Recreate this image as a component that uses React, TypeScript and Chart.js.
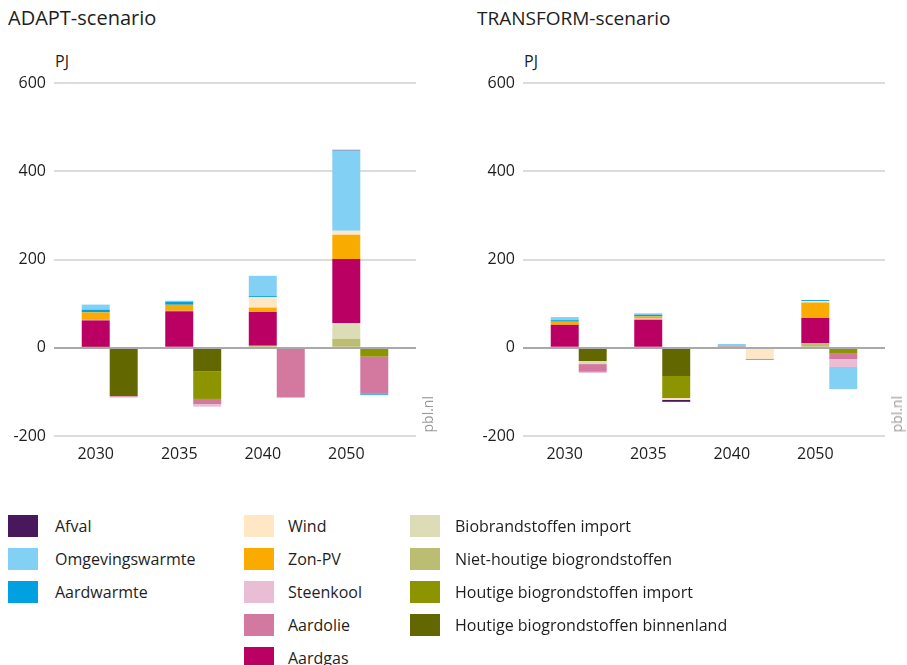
import React, { useEffect, useRef } from 'react';
import { Chart, registerables } from 'chart.js';

Chart.register(...registerables);

const years = ['2030', '2035', '2040', '2050'];
const yTicks = [-200, 0, 200, 400, 600];

// legend order
const categories = [
  'Afval',
  'Omgevingswarmte',
  'Aardwarmte',
  'Wind',
  'Zon-PV',
  'Steenkool',
  'Aardolie',
  'Aardgas',
  'Biobrandstoffen import',
  'Niet-houtige biogrondstoffen',
  'Houtige biogrondstoffen import',
  'Houtige biogrondstoffen binnenland',
];

const colors = [
  '#48175c',
  '#83d0f5',
  '#00a0e1',
  '#ffe6c4',
  '#f9ab00',
  '#e9bed4',
  '#d3789f',
  '#ba0063',
  '#dcddb6',
  '#bbbd72',
  '#8c9400',
  '#636700',
];

// values per category (legend order), per year 2030, 2035, 2040, 2050 (PJ)
const adaptUp = [
  [0, 0, 0, 1.5],
  [11.5, 2.3, 46, 182],
  [6, 6.8, 2, 0],
  [0, 0, 24, 9],
  [16.5, 13.6, 10, 55],
  [0, 0, 0, 0],
  [2, 0.8, 0, 0],
  [61, 83, 76.5, 145],
  [0, 0, 0, 36],
  [0.8, 0, 4.5, 20],
  [0, 0, 0, 0],
  [0, 0, 0, 0],
];

const adaptDown = [
  [0, 0, 0, 0],
  [0, 0, 0, 0],
  [0, 0, 0, -2.5],
  [0, 0, 0, 0],
  [0, 0, 0, 0],
  [-2, -6, 0, 0],
  [-1.5, -11.5, -108, -84],
  [0, 0, -1, 0],
  [0, 0, 0, 0],
  [0, 0, 0, 0],
  [0, -63, -2, -20],
  [-109.5, -53, -2, 0],
];

const transformUp = [
  [0, 0, 0, 0],
  [7, 3, 5.5, 0],
  [3.5, 4, 0, 2],
  [0, 0, 0, 3.5],
  [7, 5, 0, 35],
  [0, 1.5, 0, 0],
  [0, 1.5, 1.5, 0],
  [52, 63, 0, 57],
  [0, 0, 0, 0],
  [0, 0, 1.5, 10.5],
  [0, 0, 0, 0],
  [0, 0, 0, 0],
];

const transformDown = [
  [0, -4.5, 0, 0],
  [0, 0, 0, -50],
  [0, 0, -2, 0],
  [0, -4, -24, 0],
  [0, 0, 0, 0],
  [-2.5, 0, 0, -18],
  [-17.5, 0, 0, -13.6],
  [0, 0, 0, 0],
  [-7, 0, 0, 0],
  [0, 0, 0, 0],
  [0, -50, 0, -12],
  [-30, -64, -1, 0],
];

const FONT = '"Open Sans", "Noto Sans", sans-serif';
const TEXT = '#1e1e1e';

const zeroLine = {
  id: 'zeroLine',
  afterDatasetsDraw(chart: any) {
    const { ctx, chartArea, scales } = chart;
    const y = Math.round(scales.y.getPixelForValue(0));
    ctx.save();
    ctx.strokeStyle = '#a9a9a9';
    ctx.lineWidth = 2;
    ctx.beginPath();
    ctx.moveTo(chartArea.left, y);
    ctx.lineTo(chartArea.right, y);
    ctx.stroke();
    ctx.restore();
  },
};

function Panel(props: {
  title: string;
  titleSize: number;
  up: number[][];
  down: number[][];
  left: number;
  width: number;
  padRight: number;
}) {
  const { title, titleSize, up, down, left, width, padRight } = props;
  const ref = useRef<HTMLCanvasElement | null>(null);

  useEffect(() => {
    if (!ref.current) return;
    const order = categories.map((_, i) => categories.length - 1 - i);
    const datasets: any[] = [];
    for (const i of order) {
      datasets.push({
        label: categories[i],
        data: up[i].map((v, j) => ({ x: j, y: v })),
        backgroundColor: colors[i],
        borderWidth: 0,
        stack: 'up',
      });
    }
    for (const i of order) {
      datasets.push({
        label: categories[i],
        data: down[i].map((v, j) => ({ x: j, y: v })),
        backgroundColor: colors[i],
        borderWidth: 0,
        stack: 'down',
      });
    }
    const chart = new Chart(ref.current, {
      type: 'bar',
      data: { datasets },
      options: {
        animation: false,
        responsive: false,
        maintainAspectRatio: false,
        layout: { padding: { top: 23, right: padRight, left: 0, bottom: 0 } },
        plugins: { legend: { display: false }, tooltip: { enabled: false } },
        datasets: { bar: { categoryPercentage: 0.67, barPercentage: 1, grouped: true } },
        scales: {
          x: {
            type: 'linear',
            offset: false,
            min: -0.667,
            max: 3.667,
            stacked: true,
            grid: { display: false, offset: false },
            border: { display: false },
            afterBuildTicks: (s: any) => {
              s.ticks = years.map((_, i) => ({ value: i }));
            },
            afterFit: (s: any) => {
              s.height = 44;
            },
            ticks: {
              callback: (v: any) => years[Math.round(Number(v))] ?? '',
              labelOffset: -14,
              padding: 1,
              maxRotation: 0,
              autoSkip: false,
              color: TEXT,
              font: { family: FONT, size: 16 },
            },
          },
          y: {
            min: -200,
            max: 600,
            stacked: true,
            afterBuildTicks: (s: any) => {
              s.ticks = yTicks.map((v) => ({ value: v }));
            },
            afterFit: (s: any) => {
              s.width = 54;
            },
            grid: {
              color: (c: any) => (c.tick && c.tick.value === 0 ? 'rgba(0,0,0,0)' : '#dcdcdc'),
              lineWidth: 2,
              drawTicks: false,
            },
            border: { display: false },
            ticks: {
              padding: 8,
              color: TEXT,
              font: { family: FONT, size: 16 },
            },
          },
        },
      } as any,
      plugins: [zeroLine],
    });
    return () => chart.destroy();
  }, []);

  return (
    <div style={{ position: 'absolute', left, top: 0, width, height: 490 }}>
      <div
        style={{
          position: 'absolute',
          left: 8,
          top: 7,
          fontFamily: FONT,
          fontSize: titleSize,
          lineHeight: '22px',
          color: TEXT,
          whiteSpace: 'nowrap',
        }}
      >
        {title}
      </div>
      <div
        style={{
          position: 'absolute',
          left: 55,
          top: 52,
          fontFamily: FONT,
          fontSize: 16,
          lineHeight: '18px',
          color: TEXT,
        }}
      >
        PJ
      </div>
      <canvas
        ref={ref}
        width={width}
        height={420}
        style={{ position: 'absolute', left: 0, top: 60, width, height: 420 }}
      />
      <div
        style={{
          position: 'absolute',
          left: width - padRight + 4,
          top: 396,
          writingMode: 'vertical-rl',
          transform: 'rotate(180deg)',
          fontFamily: FONT,
          fontSize: 14,
          lineHeight: '16px',
          color: '#9a9a9a',
          whiteSpace: 'nowrap',
        }}
      >
        pbl.nl
      </div>
    </div>
  );
}

const legendCols = [
  { swatchX: 8, textX: 55, items: [0, 1, 2] },
  { swatchX: 244, textX: 288, items: [3, 4, 5, 6, 7] },
  { swatchX: 410, textX: 455, items: [8, 9, 10, 11] },
];

function Legend() {
  const out: any[] = [];
  legendCols.forEach((col, ci) => {
    col.items.forEach((idx, r) => {
      const cy = 526 + r * 33;
      out.push(
        <div
          key={`s${ci}-${r}`}
          style={{
            position: 'absolute',
            left: col.swatchX,
            top: cy - 11,
            width: 30,
            height: 22,
            background: colors[idx],
          }}
        />
      );
      out.push(
        <div
          key={`t${ci}-${r}`}
          style={{
            position: 'absolute',
            left: col.textX,
            top: cy - 11,
            height: 22,
            lineHeight: '22px',
            fontFamily: FONT,
            fontSize: 16,
            color: TEXT,
            whiteSpace: 'nowrap',
          }}
        >
          {categories[idx]}
        </div>
      );
    });
  });
  return <>{out}</>;
}

export default function App() {
  return (
    <div
      style={{
        position: 'fixed',
        left: 0,
        top: 0,
        width: 907,
        height: 665,
        background: '#ffffff',
        overflow: 'hidden',
      }}
    >
      <Panel title="ADAPT-scenario" titleSize={20} up={adaptUp} down={adaptDown} left={0} width={440} padRight={24} />
      <Panel title="TRANSFORM-scenario" titleSize={19} up={transformUp} down={transformDown} left={469} width={438} padRight={22} />
      <Legend />
    </div>
  );
}
